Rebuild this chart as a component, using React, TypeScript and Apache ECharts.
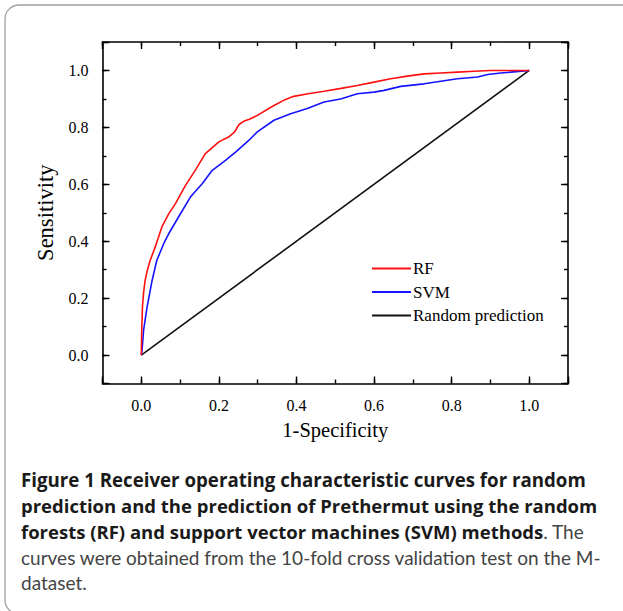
import React, { useEffect, useRef } from "react";
import * as echarts from "echarts";

// ROC curves
const rfFpr = [0, 0.001, 0.003, 0.006, 0.010, 0.016, 0.023, 0.036, 0.053, 0.071, 0.088, 0.114, 0.139, 0.165, 0.200, 0.225, 0.240, 0.252, 0.265, 0.277, 0.299, 0.342, 0.367, 0.393, 0.430, 0.471, 0.515, 0.557, 0.600, 0.643, 0.686, 0.729, 0.772, 0.815, 0.858, 0.901, 0.950, 1.0];
const rfTpr = [0, 0.080, 0.169, 0.220, 0.263, 0.300, 0.333, 0.380, 0.450, 0.497, 0.532, 0.596, 0.649, 0.708, 0.749, 0.766, 0.783, 0.810, 0.822, 0.828, 0.842, 0.877, 0.895, 0.909, 0.918, 0.927, 0.937, 0.947, 0.959, 0.971, 0.980, 0.988, 0.991, 0.994, 0.997, 1.0, 1.0, 1.0];

const svmFpr = [0, 0.002, 0.006, 0.015, 0.028, 0.040, 0.058, 0.071, 0.096, 0.127, 0.157, 0.183, 0.217, 0.243, 0.277, 0.299, 0.342, 0.385, 0.428, 0.471, 0.514, 0.557, 0.600, 0.626, 0.669, 0.729, 0.772, 0.815, 0.867, 0.893, 0.927, 0.960, 1.0];
const svmTpr = [0, 0.018, 0.088, 0.169, 0.263, 0.333, 0.392, 0.427, 0.485, 0.556, 0.602, 0.649, 0.684, 0.713, 0.754, 0.784, 0.825, 0.848, 0.866, 0.889, 0.900, 0.918, 0.924, 0.930, 0.944, 0.953, 0.962, 0.971, 0.977, 0.986, 0.991, 0.995, 1.0];

const randFpr = [0, 1];
const randTpr = [0, 1];

const seriesNames = ["RF", "SVM", "Random prediction"];
const seriesColors = ["#ff1010", "#1414ff", "#111111"];

const xTitle = "1-Specificity";
const yTitle = "Sensitivity";

const captionLines = [
  "Figure 1 Receiver operating characteristic curves for random",
  "prediction and the prediction of Prethermut using the random",
  "forests (RF) and support vector machines (SVM) methods",
  ". The",
  "curves were obtained from the 10-fold cross validation test on the M-",
  "dataset.",
];

const zip = (xs: number[], ys: number[]) => xs.map((x, i) => [x, ys[i]]);

const SERIF = "'Liberation Serif', 'Times New Roman', serif";
const BOLD_SANS = "'Open Sans', Lato, sans-serif";
const SANS = "Lato, 'Open Sans', sans-serif";

const fmtMajor = (v: number) => {
  if (v < -1e-6 || v > 1 + 1e-6) return "";
  const r = Math.round(v * 5) / 5;
  if (Math.abs(r - v) > 1e-6) return "";
  return r.toFixed(1);
};

export default function App() {
  const ref = useRef<HTMLDivElement>(null);
  useEffect(() => {
    const chart = echarts.init(ref.current!, null, { renderer: "svg" });
    const lineStyle = { color: "#000", width: 1.6 };
    const majorAxis = (pos: string, withLabels: boolean, name?: string, nameGap?: number, nameSize?: number) => ({
      type: "value",
      position: pos,
      min: -0.1,
      max: 1.1,
      splitNumber: 6,
      axisLine: { show: true, onZero: false, lineStyle },
      axisTick: { show: true, inside: true, length: 7, lineStyle: { color: "#000", width: 1.4 } },
      splitLine: { show: false },
      axisLabel: {
        show: withLabels,
        formatter: fmtMajor,
        fontFamily: SERIF,
        fontSize: 16,
        color: "#000",
        margin: 14,
        showMinLabel: true,
        showMaxLabel: true,
      },
      name: name,
      nameLocation: "middle",
      nameGap: nameGap,
      nameTextStyle: { fontFamily: SERIF, fontSize: nameSize || 20, color: "#000" },
    });
    const minorAxis = (pos: string) => ({
      type: "value",
      position: pos,
      min: -0.1,
      max: 1.1,
      interval: 0.1,
      axisLine: { show: false, onZero: false },
      axisTick: { show: true, inside: true, length: 4, lineStyle: { color: "#000", width: 1.4 } },
      splitLine: { show: false },
      axisLabel: { show: false },
    });

    chart.setOption({
      animation: false,
      backgroundColor: "#fff",
      grid: { left: 102.5, top: 42, right: 55, bottom: 227.5, containLabel: false },
      xAxis: [
        majorAxis("bottom", true, xTitle, 36, 20.5),
        minorAxis("bottom"),
        majorAxis("top", false),
        minorAxis("top"),
      ],
      yAxis: [
        majorAxis("left", true, yTitle, 46, 22.5),
        minorAxis("left"),
        majorAxis("right", false),
        minorAxis("right"),
      ],
      legend: {
        data: seriesNames,
        orient: "vertical",
        left: 371,
        top: 260,
        padding: 0,
        itemWidth: 39,
        itemHeight: 14,
        itemGap: 6.5,
        itemStyle: { opacity: 0 },
        textStyle: { fontFamily: SERIF, fontSize: 17, color: "#000", padding: [0, 0, 0, -3] },
      },
      series: [
        { name: seriesNames[0], type: "line", data: zip(rfFpr, rfTpr), symbol: "none", lineStyle: { color: seriesColors[0], width: 1.6 }, itemStyle: { color: seriesColors[0] }, z: 4 },
        { name: seriesNames[1], type: "line", data: zip(svmFpr, svmTpr), symbol: "none", lineStyle: { color: seriesColors[1], width: 1.6 }, itemStyle: { color: seriesColors[1] }, z: 3 },
        { name: seriesNames[2], type: "line", data: zip(randFpr, randTpr), symbol: "none", lineStyle: { color: seriesColors[2], width: 1.6 }, itemStyle: { color: seriesColors[2] }, z: 2 },
      ],
      graphic: [
        {
          type: "rect",
          silent: true,
          z: -1,
          shape: { x: 5, y: 5, width: 640, height: 609, r: 14 },
          style: { fill: "none", stroke: "#a0a0a0", lineWidth: 1.3 },
        },
        {
          type: "text", x: 21, y: 479,
          style: { text: captionLines[0], font: `bold 18.7px ${BOLD_SANS}`, fill: "#1a1a1a", verticalAlign: "middle" },
        },
        {
          type: "text", x: 21, y: 505,
          style: { text: captionLines[1], font: `bold 18.5px ${BOLD_SANS}`, fill: "#1a1a1a", verticalAlign: "middle" },
        },
        {
          type: "text", x: 21, y: 531,
          style: {
            text: `{b|${captionLines[2]}}{r|${captionLines[3]}}`,
            verticalAlign: "middle",
            rich: {
              b: { fontFamily: BOLD_SANS, fontSize: 18.5, fontWeight: "bold", fill: "#1a1a1a" },
              r: { fontFamily: SANS, fontSize: 19, fontWeight: "normal", fill: "#444" },
            },
          },
        },
        {
          type: "text", x: 21, y: 557,
          style: { text: captionLines[4], font: `19px ${SANS}`, fill: "#444", verticalAlign: "middle" },
        },
        {
          type: "text", x: 21, y: 582,
          style: { text: captionLines[5], font: `19px ${SANS}`, fill: "#444", verticalAlign: "middle" },
        },
      ],
    });
    return () => chart.dispose();
  }, []);
  return <div ref={ref} style={{ position: "fixed", left: 0, top: 0, width: 623, height: 611 }} />;
}
